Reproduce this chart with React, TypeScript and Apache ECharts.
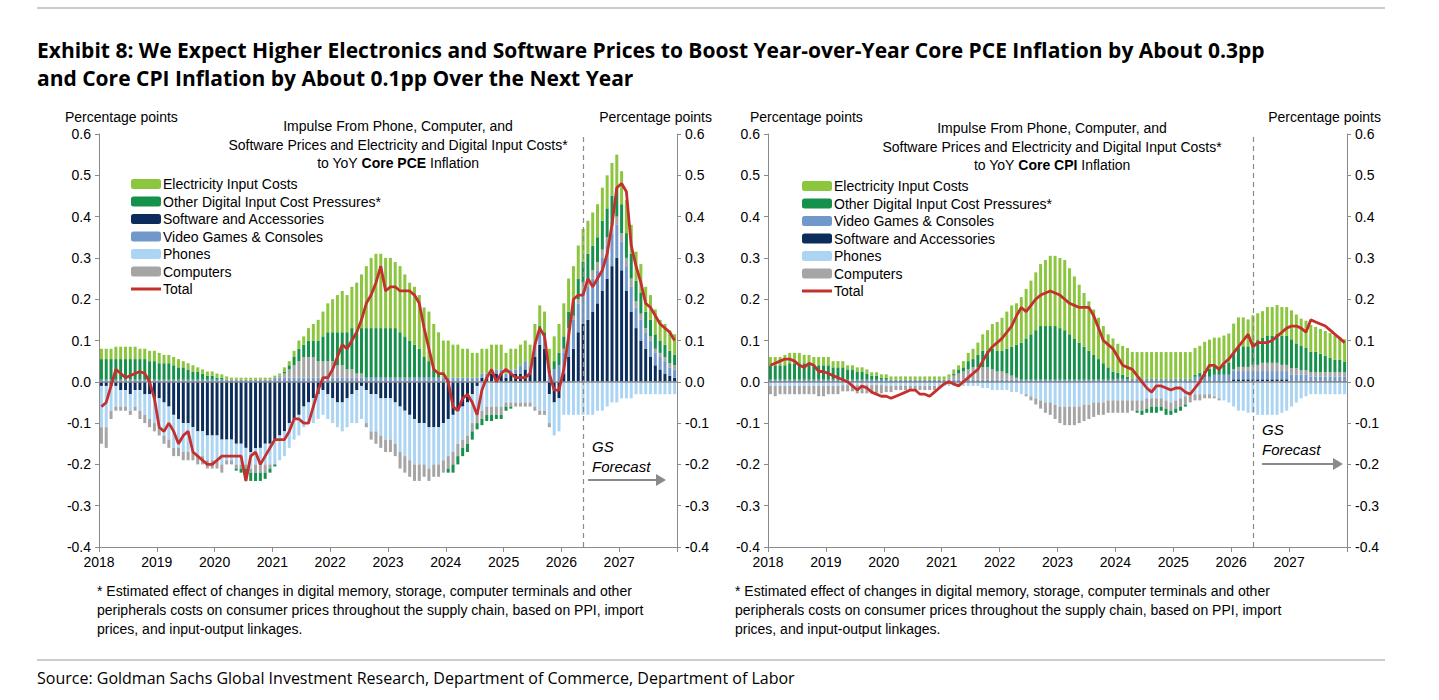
import React, { useEffect, useRef } from 'react'
import * as echarts from 'echarts'

// monthly, Jan 2018 .. Dec 2027
const pceElectricity = [
  .025, .025, .025, .03, .03, .03, .03, .03, .025, .025, .025, .025,
  .025, .02, .02, .02, .02, .015, .015, .015, .01, .01, .01, .01,
  .01, .008, .008, .005, .005, .005, .005, .005, .005, .005, .005, .005,
  .005, .005, .01, .01, .015, .02, .02, .03, .04, .05, .06, .07,
  .08, .09, .10, .09, .10, .12, .13, .15, .17, .18, .18, .17,
  .17, .16, .16, .15, .14, .14, .13, .12, .12, .11, .10, .09,
  .09, .08, .08, .07, .07, .06, .06, .06, .06, .06, .06, .06,
  .05, .05, .05, .05, .05, .05, .05, .05, .05, .05, .06, .07,
  .08, .08, .08, .08, .08, .08, .08, .08, .08, .08, .08, .08,
  .08, .08, .07, .07, .07, .06, .06, .06, .05, .05, .05, .05,
]
const pceOtherDigital = [
  .05, .05, .05, .05, .05, .05, .05, .05, .05, .05, .045, .045,
  .04, .04, .04, .035, .03, .03, .025, .02, .02, .015, .01, .01,
  .005, .005, 0, 0, -.005, -.01, -.015, -.02, -.02, -.02, -.015, -.01,
  -.005, 0, .005, .01, .02, .03, .03, .04, .04, .05, .06, .07,
  .07, .08, .08, .09, .10, .10, .11, .12, .12, .12, .12, .12,
  .12, .12, .11, .10, .09, .08, .07, .05, .04, .02, .01, 0,
  -.01, -.02, -.02, -.02, -.02, -.02, -.015, -.015, -.015, -.015, -.01, -.01,
  -.01, -.005, 0, 0, 0, 0, 0, .005, .01, .01, .02, .03,
  .03, .04, .04, .05, .05, .06, .06, .06, .07, .07, .07, .07,
  .07, .06, .06, .05, .05, .04, .04, .035, .03, .03, .03, .025,
]
const pceSoftware = [
  -.01, -.01, -.01, -.01, -.02, -.02, -.03, -.02, -.02, -.03, -.03, -.04,
  -.04, -.05, -.06, -.08, -.09, -.10, -.10, -.11, -.12, -.12, -.13, -.13,
  -.13, -.14, -.14, -.14, -.15, -.15, -.16, -.17, -.16, -.16, -.15, -.15,
  -.14, -.13, -.12, -.10, -.09, -.08, -.06, -.05, -.04, -.03, -.02, -.03,
  -.04, -.05, -.05, -.04, -.03, -.02, -.01, -.02, -.03, -.03, -.04, -.04,
  -.04, -.05, -.06, -.07, -.08, -.09, -.10, -.10, -.11, -.11, -.11, -.10,
  -.09, -.08, -.07, -.06, -.05, -.03, -.01, .01, .01, .02, .02, .02,
  .01, .02, .02, .02, .03, .02, .06, .09, .08, -.03, -.05, -.04,
  .02, .06, .08, .12, .14, .15, .17, .19, .22, .25, .28, .30,
  .27, .22, .17, .13, .10, .08, .06, .04, .03, .02, .015, .01,
]
const pceVideoGames = [
  .005, .005, .005, .005, .005, .005, .005, .005, .005, .005, .005, .005,
  .005, .005, .005, .005, .005, .005, .005, .005, .005, .005, .005, .005,
  .005, .005, .005, .005, .005, .005, .005, .005, .005, .005, .005, .005,
  .01, .01, .01, .01, .01, .01, .01, .01, .01, .01, .01, .01,
  .01, .01, .01, .01, .01, .01, .01, .01, .01, .01, .01, .01,
  .01, .01, .01, .01, .01, .01, .01, .01, .01, .01, .01, .01,
  .01, .01, .01, .01, .01, .01, .01, .01, .01, .01, .01, .01,
  .01, .01, .01, .02, .02, .02, .03, .04, .03, .02, .03, .04,
  .05, .06, .07, .07, .08, .08, .08, .08, .08, .08, .08, .08,
  .07, .06, .06, .05, .05, .04, .04, .03, .03, .03, .02, .02,
]
const pcePhones = [
  -.10, -.10, -.06, -.05, -.04, -.04, -.04, -.04, -.05, -.05, -.06, -.06,
  -.07, -.08, -.08, -.08, -.07, -.07, -.07, -.06, -.06, -.06, -.06, -.06,
  -.06, -.06, -.05, -.05, -.05, -.05, -.04, -.04, -.04, -.04, -.05, -.05,
  -.06, -.06, -.06, -.06, -.05, -.05, -.05, -.05, -.06, -.06, -.06, -.06,
  -.06, -.06, -.07, -.07, -.07, -.08, -.08, -.08, -.09, -.09, -.09, -.10,
  -.10, -.10, -.11, -.11, -.11, -.11, -.10, -.10, -.10, -.09, -.09, -.09,
  -.09, -.09, -.08, -.08, -.08, -.07, -.07, -.07, -.06, -.06, -.06, -.06,
  -.05, -.05, -.05, -.05, -.05, -.05, -.06, -.07, -.07, -.07, -.08, -.08,
  -.08, -.08, -.08, -.08, -.08, -.08, -.08, -.07, -.07, -.06, -.05, -.05,
  -.04, -.04, -.04, -.03, -.03, -.03, -.03, -.03, -.03, -.03, -.03, -.03,
]
const pceComputers = [
  -.04, -.05, -.02, -.01, -.01, -.01, -.01, -.01, -.02, -.02, -.02, -.02,
  -.02, -.02, -.02, -.02, -.02, -.02, -.02, -.02, -.02, -.02, -.02, -.02,
  -.02, -.02, -.01, -.01, -.01, -.01, -.01, -.01, -.02, -.02, -.02, -.01,
  0, .005, .01, .02, .03, .04, .05, .05, .05, .04, .04, .04,
  .04, .03, .03, .02, .02, .01, .01, -.01, -.02, -.03, -.03, -.03,
  -.03, -.03, -.04, -.04, -.04, -.04, -.04, -.03, -.03, -.03, -.03, -.03,
  -.03, -.03, -.03, -.02, -.02, -.02, -.02, -.02, -.02, -.02, -.02, -.02,
  -.01, -.01, -.01, -.01, -.01, -.01, -.01, -.01, -.01, -.01, 0, 0,
  .01, .01, .01, .01, .02, .02, .02, .02, .02, .02, .02, .02,
  .02, .02, .02, .015, .015, .01, .01, .01, .01, .01, .01, .01,
]
const pceTotal = [
  -.06, -.05, -.01, .03, .02, .01, .015, .02, .025, .02, 0, -.04,
  -.11, -.12, -.10, -.12, -.15, -.13, -.12, -.17, -.18, -.19, -.20, -.20,
  -.19, -.18, -.18, -.18, -.18, -.18, -.24, -.18, -.17, -.20, -.18, -.16,
  -.14, -.14, -.14, -.12, -.09, -.09, -.10, -.10, -.06, -.02, .01, .01,
  .03, .06, .09, .08, .10, .12, .15, .19, .21, .24, .28, .22,
  .23, .23, .22, .22, .22, .21, .19, .13, .08, .03, .02, .02,
  0, -.06, -.07, -.04, -.03, -.05, -.08, -.02, .01, .03, 0, .02,
  .03, .02, .01, .01, .01, .02, .09, .13, .11, .02, -.02, -.02,
  .03, .11, .20, .21, .21, .25, .23, .25, .27, .31, .38, .47,
  .48, .46, .33, .28, .24, .19, .18, .16, .14, .13, .12, .10,
]

const cpiElectricity = [
  .02, .02, .02, .025, .025, .025, .025, .02, .02, .02, .02, .02,
  .02, .015, .015, .015, .01, .01, .01, .01, .01, .008, .008, .008,
  .008, .008, .008, .008, .008, .008, .008, .008, .008, .008, .008, .008,
  .008, .008, .01, .01, .015, .02, .025, .03, .04, .05, .06, .07,
  .08, .09, .10, .10, .11, .12, .13, .14, .15, .16, .17, .17,
  .17, .17, .16, .15, .14, .13, .12, .11, .10, .09, .08, .08,
  .07, .07, .07, .065, .065, .065, .065, .065, .065, .065, .065, .065,
  .065, .065, .065, .065, .065, .065, .07, .07, .07, .07, .07, .07,
  .07, .07, .07, .065, .065, .065, .065, .07, .07, .07, .07, .07,
  .07, .07, .065, .065, .065, .06, .06, .06, .06, .06, .055, .055,
]
const cpiOtherDigital = [
  .035, .035, .035, .035, .04, .04, .04, .04, .04, .035, .035, .035,
  .035, .03, .03, .03, .025, .025, .02, .02, .015, .01, .01, .005,
  .005, 0, 0, 0, 0, 0, 0, 0, 0, 0, 0, 0,
  0, 0, .005, .01, .01, .02, .02, .03, .04, .04, .05, .05,
  .05, .06, .07, .08, .09, .10, .11, .12, .13, .13, .13, .13,
  .125, .12, .11, .10, .09, .08, .07, .06, .05, .04, .03, .02,
  .015, .01, .005, 0, -.005, -.01, -.01, -.015, -.015, -.01, -.015, -.01,
  -.01, -.01, -.005, 0, .005, .01, .015, .02, .02, .02, .025, .03,
  .04, .05, .05, .05, .055, .06, .06, .065, .065, .07, .07, .07,
  .07, .06, .06, .055, .05, .05, .045, .04, .035, .03, .03, .025,
]
const cpiVideoGames = [
  .003, .003, .003, .003, .003, .003, .003, .003, .003, .003, .003, .003,
  .003, .003, .003, .003, .003, .003, .003, .003, .003, .003, .003, .003,
  .003, .003, .003, .003, .003, .003, .003, .003, .003, .003, .003, .003,
  .003, .003, .003, .003, .003, .003, .003, .003, .003, .003, .003, .003,
  .003, .003, .003, .003, .003, .003, .003, .003, .003, .003, .003, .003,
  .003, .003, .003, .003, .003, .003, .003, .003, .003, .003, .003, .003,
  .005, .005, .005, .005, .005, .005, .005, .005, .005, .005, .005, .005,
  .005, .005, .005, .005, .01, .01, .01, .01, .015, .015, .015, .015,
  .02, .02, .02, .02, .02, .02, .02, .02, .02, .02, .02, .02,
  .015, .015, .015, .015, .01, .01, .01, .01, .01, .01, .01, .01,
]
const cpiSoftware = [
  .002, .002, .002, .002, .002, .002, .002, .002, .002, .002, .002, .002,
  .002, .002, .002, .002, .002, .002, .002, .002, .002, .002, .002, .002,
  .002, .002, .002, .002, .002, .002, .002, .002, .002, .002, .002, .002,
  .002, .002, .002, .002, .002, .002, .002, .002, .002, .002, .002, .002,
  .002, .002, .002, .002, .002, .002, .002, .002, .002, .002, .002, .002,
  .002, .002, .002, .002, .002, .002, .002, .002, .002, .002, .002, .002,
  .002, .002, .002, .002, .002, .002, .002, .002, .002, .002, .002, .002,
  .002, .002, .002, .002, .002, .002, .002, .002, .002, .002, .002, .002,
  .006, .006, .006, .006, .006, .006, .006, .006, .006, .006, .006, .006,
  .003, .003, .003, .003, .003, .003, .003, .003, .003, .003, .003, .003,
]
const cpiPhones = [
  -.01, -.01, -.01, -.01, -.01, -.01, -.01, -.01, -.01, -.01, -.01, -.01,
  -.01, -.01, -.01, -.008, -.008, -.008, -.008, -.008, -.008, -.008, -.008, -.008,
  -.01, -.01, -.01, -.01, -.01, -.01, -.01, -.01, -.01, -.01, -.01, -.01,
  -.01, -.01, -.01, -.01, -.01, -.01, -.01, -.01, -.015, -.015, -.02, -.02,
  -.02, -.02, -.025, -.025, -.03, -.03, -.035, -.04, -.045, -.05, -.05, -.055,
  -.06, -.06, -.06, -.06, -.06, -.055, -.055, -.05, -.05, -.05, -.045, -.045,
  -.045, -.045, -.045, -.045, -.045, -.045, -.04, -.04, -.04, -.04, -.045, -.05,
  -.045, -.04, -.035, -.03, -.03, -.03, -.03, -.03, -.035, -.04, -.045, -.05,
  -.06, -.07, -.07, -.075, -.075, -.08, -.08, -.08, -.08, -.08, -.075, -.07,
  -.06, -.05, -.04, -.035, -.03, -.03, -.03, -.03, -.03, -.03, -.03, -.03,
]
const cpiComputers = [
  -.02, -.025, -.02, -.02, -.02, -.02, -.02, -.02, -.02, -.02, -.025, -.025,
  -.02, -.02, -.02, -.015, -.015, -.015, -.02, -.02, -.02, -.02, -.02, -.02,
  -.015, -.015, -.01, -.01, -.01, -.01, -.01, -.01, -.01, -.01, -.01, -.005,
  0, .005, .01, .015, .02, .025, .03, .03, .03, .03, .025, .02,
  .02, .015, .01, .005, 0, -.005, -.01, -.015, -.02, -.025, -.03, -.035,
  -.04, -.045, -.045, -.045, -.04, -.04, -.035, -.035, -.03, -.03, -.03, -.03,
  -.03, -.03, -.03, -.025, -.025, -.025, -.025, -.02, -.02, -.02, -.02, -.02,
  -.02, -.02, -.02, -.02, -.015, -.015, -.01, -.01, -.005, -.005, 0, 0,
  .005, .01, .01, .01, .015, .015, .02, .02, .02, .02, .015, .015,
  .015, .015, .01, .01, .01, .01, .01, .01, .01, .01, .01, .01,
]
const cpiTotal = [
  .04, .045, .05, .055, .055, .05, .04, .035, .045, .04, .025, .025,
  .02, .015, .01, .005, 0, -.01, -.02, -.01, -.015, -.025, -.03, -.035,
  -.035, -.04, -.035, -.03, -.025, -.02, -.02, -.03, -.03, -.035, -.025, -.015,
  -.005, 0, -.005, -.01, 0, .01, .02, .03, .05, .07, .085, .095,
  .105, .12, .135, .16, .18, .17, .185, .20, .21, .215, .22, .215,
  .21, .20, .19, .185, .18, .18, .18, .16, .13, .10, .09, .08,
  .06, .04, .035, .03, .015, 0, -.015, -.025, -.01, -.01, -.015, -.02,
  -.015, -.015, -.025, -.03, -.015, 0, .02, .04, .04, .03, .045, .055,
  .07, .085, .10, .115, .085, .095, .095, .095, .10, .11, .12, .13,
  .135, .135, .13, .12, .15, .145, .14, .135, .125, .115, .105, .095,
]

const yearLabels = ['2018', '2019', '2020', '2021', '2022', '2023', '2024', '2025', '2026', '2027']
const months = pceTotal.map((_, i) => String(i))
const forecastStart = 100.5

const FONT = 'Liberation Sans'
const colors = {
  'Electricity Input Costs': '#8cc63f',
  'Other Digital Input Cost Pressures*': '#16914c',
  'Software and Accessories': '#0c2d5c',
  'Video Games & Consoles': '#7098cb',
  Phones: '#acd5f3',
  Computers: '#a5a5a5',
  Total: '#c4302d',
}

// bars and line sit on a hidden category axis (index idx*2); the visible value axis (idx*2+1) draws year ticks
function panelSeries(idx: number, d: Record<string, number[]>, total: number[]) {
  const order = ['Software and Accessories', 'Video Games & Consoles', 'Phones', 'Computers',
    'Other Digital Input Cost Pressures*', 'Electricity Input Costs']
  const out: any[] = order.map((name) => ({
    name, type: 'bar', stack: 'p' + idx, xAxisIndex: idx * 2, yAxisIndex: idx * 2,
    barWidth: 3, data: d[name], itemStyle: { color: (colors as any)[name] },
  }))
  out.push({
    name: 'Total', type: 'line', xAxisIndex: idx * 2, yAxisIndex: idx * 2, data: total,
    showSymbol: false, symbol: 'none', z: 5, lineStyle: { color: colors.Total, width: 2.8 },
    itemStyle: { color: colors.Total },
  })
  out.push({
    type: 'line', xAxisIndex: idx * 2 + 1, yAxisIndex: idx * 2, data: [], silent: true,
    markLine: {
      silent: true, symbol: 'none', label: { show: false }, z: 3,
      data: [
        { yAxis: 0, lineStyle: { color: '#8a8a8a', width: 1.5, type: 'solid' } },
        { xAxis: forecastStart, lineStyle: { color: '#8a8a8a', width: 1.2, type: [5, 4] } },
      ],
    },
  })
  return out
}

const yAxis = (grid: number, right: boolean) => ({
  type: 'value', gridIndex: grid, min: -0.4, max: 0.6, interval: 0.1, position: right ? 'right' : 'left',
  axisLine: { show: true, lineStyle: { color: '#8a8a8a' } },
  axisTick: { show: true, length: 4, lineStyle: { color: '#8a8a8a' } },
  splitLine: { show: false },
  axisLabel: { color: '#000', fontFamily: FONT, fontSize: 14, margin: 8, formatter: (v: number) => v.toFixed(1) },
})

const xAxes = (grid: number) => [
  { type: 'category', gridIndex: grid, data: months, show: false, boundaryGap: true },
  {
    type: 'value', gridIndex: grid, min: 0, max: 120, interval: 12, position: 'bottom',
    axisLine: { show: true, onZero: false, lineStyle: { color: '#8a8a8a' } },
    axisTick: { show: true, length: 5, lineStyle: { color: '#8a8a8a' } },
    splitLine: { show: false },
    axisLabel: { color: '#000', fontFamily: FONT, fontSize: 14, margin: 8,
      formatter: (v: number) => yearLabels[v / 12] ?? '' },
  },
]

const txt = (x: number, y: number, text: string, extra: any = {}) => ({
  type: 'text', x, y, style: { text, fill: '#000', font: `14px "${FONT}"`, ...extra },
})

const subtitle = (cx: number, y: number, bold: string) => ({
  type: 'text', x: cx, y,
  style: {
    text: `Impulse From Phone, Computer, and\nSoftware Prices and Electricity and Digital Input Costs*\nto YoY {b|${bold}} Inflation`,
    rich: { b: { fontWeight: 'bold', fontFamily: FONT, fontSize: 14, fill: '#000' } },
    font: `14px "${FONT}"`, fill: '#000', align: 'center', lineHeight: 18.5,
  },
})

const footnote = '* Estimated effect of changes in digital memory, storage, computer terminals and other\nperipherals costs on consumer prices throughout the supply chain, based on PPI, import\nprices, and input-output linkages.'

const arrow = (x1: number, x2: number, y: number) => [
  { type: 'line', shape: { x1, y1: y, x2: x2 - 8, y2: y }, style: { stroke: '#8a8a8a', lineWidth: 2 } },
  { type: 'polygon', shape: { points: [[x2 - 10, y - 6], [x2, y], [x2 - 10, y + 6]] }, style: { fill: '#8a8a8a' } },
]

const lineIcon = 'path://M0,0L0.01,0L0.01,0.01Z M0,3.6H30V6.4H0Z M0,10L0.01,10L0.01,9.99Z'

export default function App() {
  const ref = useRef<HTMLDivElement>(null)

  useEffect(() => {
    if (!ref.current) return
    const chart = echarts.init(ref.current, undefined, { renderer: 'svg' })

    const pce = {
      'Electricity Input Costs': pceElectricity, 'Other Digital Input Cost Pressures*': pceOtherDigital,
      'Software and Accessories': pceSoftware, 'Video Games & Consoles': pceVideoGames,
      Phones: pcePhones, Computers: pceComputers,
    }
    const cpi = {
      'Electricity Input Costs': cpiElectricity, 'Other Digital Input Cost Pressures*': cpiOtherDigital,
      'Software and Accessories': cpiSoftware, 'Video Games & Consoles': cpiVideoGames,
      Phones: cpiPhones, Computers: cpiComputers,
    }
    const legendBase = {
      orient: 'vertical', itemWidth: 30, itemHeight: 10, itemGap: 3.5, selectedMode: false,
      textStyle: { fontFamily: FONT, fontSize: 14, color: '#000', padding: [0, 0, 0, -3] },
    }

    const option: echarts.EChartsOption = {
      animation: false,
      grid: [
        { left: 99, top: 134, width: 578, height: 413 },
        { left: 768, top: 134, width: 579, height: 413 },
      ],
      xAxis: [...xAxes(0), ...xAxes(1)] as any,
      yAxis: [yAxis(0, false), yAxis(0, true), yAxis(1, false), yAxis(1, true)] as any,
      legend: [
        { ...legendBase, left: 126, top: 172,
          data: ['Electricity Input Costs', 'Other Digital Input Cost Pressures*', 'Software and Accessories',
            'Video Games & Consoles', 'Phones', 'Computers', { name: 'Total', icon: lineIcon }] },
        { ...legendBase, left: 797, top: 174,
          data: ['Electricity Input Costs', 'Other Digital Input Cost Pressures*', 'Video Games & Consoles',
            'Software and Accessories', 'Phones', 'Computers', { name: 'Total', icon: lineIcon }] },
      ] as any,
      series: [...panelSeries(0, pce, pceTotal), ...panelSeries(1, cpi, cpiTotal)],
      graphic: [
        { type: 'line', shape: { x1: 37, y1: 8, x2: 1385, y2: 8 }, style: { stroke: '#999', lineWidth: 1 } },
        txt(37, 36, 'Exhibit 8: We Expect Higher Electronics and Software Prices to Boost Year-over-Year Core PCE Inflation by About 0.3pp\nand Core CPI Inflation by About 0.1pp Over the Next Year',
          { font: 'bold 21px "Open Sans"', lineHeight: 28 }),
        txt(65, 110, 'Percentage points'),
        txt(712, 110, 'Percentage points', { align: 'right' }),
        txt(750, 110, 'Percentage points'),
        txt(1381, 110, 'Percentage points', { align: 'right' }),
        subtitle(398, 117, 'Core PCE'),
        subtitle(1052, 119, 'Core CPI'),
        txt(592, 436, 'GS\nForecast', { font: `italic 15px "${FONT}"`, lineHeight: 20 }),
        txt(1262, 419, 'GS\nForecast', { font: `italic 15px "${FONT}"`, lineHeight: 20 }),
        ...arrow(588, 666, 480),
        ...arrow(1262, 1343, 464),
        txt(97, 581, footnote, { lineHeight: 19 }),
        txt(735, 581, footnote, { lineHeight: 19 }),
        { type: 'line', shape: { x1: 37, y1: 660, x2: 1385, y2: 660 }, style: { stroke: '#999', lineWidth: 1 } },
        txt(37, 670, 'Source: Goldman Sachs Global Investment Research, Department of Commerce, Department of Labor',
          { font: '16px "Open Sans"' }),
      ] as any,
    }

    chart.setOption(option)
    return () => chart.dispose()
  }, [])

  return <div ref={ref} style={{ position: 'fixed', left: 0, top: 0, width: 1439, height: 700, background: '#fff' }} />
}
